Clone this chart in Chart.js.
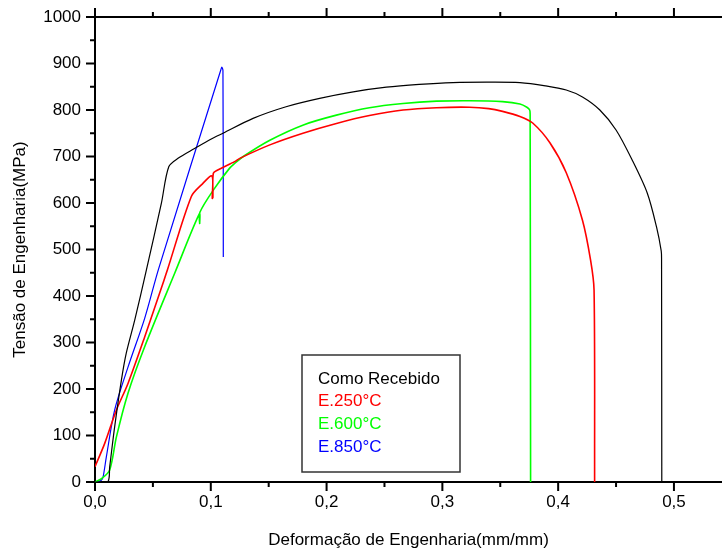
<!DOCTYPE html>
<html>
<head>
<meta charset="utf-8">
<script src="https://cdn.jsdelivr.net/npm/chart.js@4.4.1/dist/chart.umd.min.js"></script>
<style>
  body { margin: 0; background: #fff; }
</style>
</head>
<body>
<canvas id="ensaio" width="722" height="552"></canvas>
<script>
    // Curvas tensao x deformacao
    var recebidoX = [0, 0.011, 0.0127, 0.017, 0.0228, 0.027, 0.0343, 0.0444, 0.0573, 0.0637, 0.0717, 0.086, 0.1, 0.1105, 0.1365, 0.165, 0.194, 0.223, 0.2516, 0.28, 0.309, 0.338, 0.367, 0.389, 0.407, 0.421, 0.436, 0.45, 0.464, 0.477, 0.485, 0.489, 0.4893, 0.4895];
    var recebidoY = [0, 0, 33, 119, 219, 277, 348, 456, 599, 678, 696, 717, 737, 750, 782, 807, 825, 839, 849, 855, 859, 860, 859, 852, 843, 828, 800, 757, 692, 621, 548, 497, 480, 0];

    var e250X = [0, 0.0084, 0.0185, 0.0285, 0.0429, 0.0596, 0.0625, 0.0832, 0.0919, 0.101, 0.1013, 0.1018, 0.1022, 0.106, 0.1206, 0.125, 0.151, 0.1796, 0.2085, 0.237, 0.266, 0.295, 0.3236, 0.34, 0.352, 0.367, 0.378, 0.393, 0.407, 0.421, 0.428, 0.431, 0.4315];
    var e250Y = [33, 83, 155, 212, 312, 434, 456, 614, 639, 658, 610, 612, 664, 671, 689, 696, 725, 750, 771, 788, 800, 805, 806, 803, 797, 786, 772, 729, 665, 563, 477, 413, 0];

    var e600X = [0, 0.006, 0.0127, 0.0185, 0.0285, 0.0429, 0.069, 0.0902, 0.0904, 0.0906, 0.1034, 0.1163, 0.1206, 0.128, 0.151, 0.18, 0.2085, 0.237, 0.266, 0.295, 0.3236, 0.352, 0.367, 0.373, 0.3754, 0.3758, 0.3762];
    var e600Y = [0, 8, 26, 97, 191, 291, 450, 577, 556, 580, 632, 675, 685, 700, 735, 768, 789, 805, 814, 819, 820, 818, 813, 806, 800, 790, 0];

    var e850X = [0, 0.0055, 0.007, 0.0098, 0.017, 0.0285, 0.0429, 0.055, 0.1085, 0.1095, 0.1105, 0.1108];
    var e850Y = [0, 4, 11, 54, 155, 247, 352, 459, 885, 892, 885, 484];

    var ticksX = [0, 0.05, 0.1, 0.15, 0.2, 0.25, 0.3, 0.35, 0.4, 0.45, 0.5];

    var nomes = ["Como Recebido", "E.250°C", "E.600°C", "E.850°C"];
    var cores = ["#000000", "#ff0000", "#00ff00", "#0000ff"];
    var espessuras = [1.2, 1.6, 1.6, 1.2];

    function pontos(xs, ys) {
        return xs.map(function (x, i) { return { x: x, y: ys[i] }; });
    }
    var series = [pontos(recebidoX, recebidoY), pontos(e250X, e250Y), pontos(e600X, e600Y), pontos(e850X, e850Y)];

    var fonte = "'Liberation Sans', Arial, sans-serif";

    function ehMultiplo(v, passo) {
        return Math.abs(v / passo - Math.round(v / passo)) < 1e-6;
    }

    // tracinhos dos eixos (maiores e menores) + eixo de cima + legenda
    var tracos = {
        id: "tracos",
        afterDraw: function (chart) {
            var ctx = chart.ctx, area = chart.chartArea;
            var sx = chart.scales.x, sy = chart.scales.y;
            ctx.save();
            ctx.strokeStyle = "#000";
            ctx.lineWidth = 2;
            ctx.beginPath();
            ctx.moveTo(area.left, area.top);
            ctx.lineTo(area.right, area.top);
            sx.ticks.forEach(function (t) {
                var px = sx.getPixelForValue(t.value);
                var len = ehMultiplo(t.value, 0.1) ? 9 : 5;
                ctx.moveTo(px, area.bottom);
                ctx.lineTo(px, area.bottom + len);
                ctx.moveTo(px, area.top);
                ctx.lineTo(px, area.top - len);
            });
            sy.ticks.forEach(function (t) {
                var py = sy.getPixelForValue(t.value);
                var len = ehMultiplo(t.value, 100) ? 9 : 5;
                ctx.moveTo(area.left, py);
                ctx.lineTo(area.left - len, py);
            });
            ctx.stroke();

            var bx = area.left + 207, by = area.top + 338, bw = 158, bh = 117;
            ctx.lineWidth = 1.5;
            ctx.strokeStyle = "#333";
            ctx.fillStyle = "#fff";
            ctx.fillRect(bx, by, bw, bh);
            ctx.strokeRect(bx, by, bw, bh);
            ctx.font = "17px " + fonte;
            ctx.textBaseline = "middle";
            ctx.textAlign = "left";
            nomes.forEach(function (n, i) {
                ctx.fillStyle = cores[i];
                ctx.fillText(n, bx + 16, by + 24 + i * 22.7);
            });
            ctx.restore();
        }
    };

    var ctx = document.getElementById("ensaio").getContext("2d");
    var chart = new Chart(ctx, {
        type: "scatter",
        data: {
            datasets: series.map(function (s, i) {
                return {
                    label: nomes[i],
                    data: s,
                    showLine: true,
                    borderColor: cores[i],
                    borderWidth: espessuras[i],
                    pointRadius: 0,
                    tension: 0.3,
                    fill: false
                };
            })
        },
        options: {
            responsive: false,
            animation: false,
            layout: { padding: { top: 17, right: 0, left: 0, bottom: 0 } },
            plugins: {
                legend: { display: false },
                tooltip: { enabled: false }
            },
            scales: {
                x: {
                    type: "linear",
                    min: 0,
                    max: 0.5415,
                    afterFit: function (s) { s.height = 70; },
                    afterBuildTicks: function (s) {
                        s.ticks = ticksX.map(function (v) { return { value: v }; });
                    },
                    grid: { display: false, drawTicks: true, tickLength: 9 },
                    border: { display: true, color: "#000", width: 2 },
                    ticks: {
                        autoSkip: false,
                        maxRotation: 0,
                        padding: 1,
                        color: "#000",
                        font: { family: fonte, size: 17 },
                        callback: function (v) {
                            return ehMultiplo(v, 0.1) ? v.toFixed(1).replace(".", ",") : "";
                        }
                    },
                    title: {
                        display: true,
                        text: "Deformação de Engenharia(mm/mm)",
                        color: "#000",
                        font: { family: fonte, size: 17 },
                        padding: { top: 0, bottom: 1 }
                    }
                },
                y: {
                    min: 0,
                    max: 1000,
                    afterFit: function (s) { s.width = 95; },
                    grid: { display: false, drawTicks: true, tickLength: 9 },
                    border: { display: true, color: "#000", width: 2 },
                    ticks: {
                        stepSize: 50,
                        autoSkip: false,
                        padding: 5,
                        color: "#000",
                        font: { family: fonte, size: 17 },
                        callback: function (v) {
                            return ehMultiplo(v, 100) ? String(v) : "";
                        }
                    },
                    title: {
                        display: true,
                        text: "Tensão de Engenharia(MPa)",
                        color: "#000",
                        font: { family: fonte, size: 17 },
                        padding: { top: 10, bottom: 0 }
                    }
                }
            }
        },
        plugins: [tracos]
    });
</script>
</body>
</html>
